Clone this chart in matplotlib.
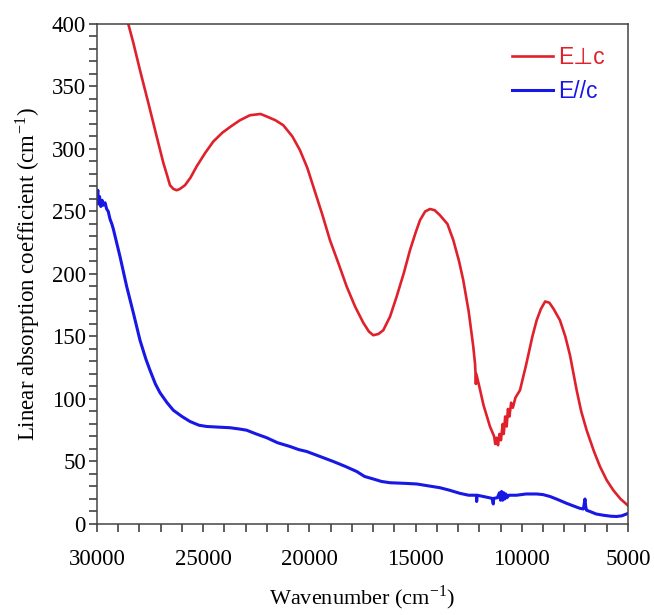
import matplotlib.pyplot as plt
from matplotlib.ticker import MultipleLocator

# absorption spectra, wavenumber in cm-1
w_perp = [28700, 28526, 28290, 27975, 27585, 27190, 26878, 26700, 26563, 26400,
          26248, 26100, 25857, 25600, 25310, 24900, 24522, 24100, 23700, 23268,
          22797, 22300, 22010, 21600, 21229, 20800,
          20443, 20100, 19816, 19400, 19030, 18600, 18245, 17850, 17463, 17200,
          16992, 16750, 16521, 16200, 15890, 15550, 15264, 15000, 14793, 14550,
          14322, 14100, 13852, 13500, 13222, 12950, 12755, 12500, 12284, 12200,
          12180, 12160, 12140, 12000, 11800, 11498, 11300, 11250, 11182, 11120,
          11050, 10980, 10900, 10850, 10780, 10712, 10650, 10580, 10500, 10420,
          10300, 10085, 9800, 9500, 9299, 9100, 8900, 8700, 8500, 8203,
          7950, 7730, 7416, 7200, 6946, 6600, 6319, 6000, 5692, 5350, 5016]
a_perp = [410, 400, 385, 363, 337, 310, 289, 279, 271, 268,
          267, 268, 271, 277, 286, 297, 306, 313, 318, 323,
          327, 328, 326, 323, 319, 310,
          299, 285, 270, 248, 227, 207, 190, 174, 161, 154,
          151, 152, 155, 166, 182, 201, 219, 233, 243, 250,
          252, 251, 247, 240, 227, 210, 195, 170, 142, 128,
          121, 112, 120, 110, 95, 78, 70, 64, 69, 63,
          72, 67, 80, 72, 86, 78, 92, 86, 97, 93,
          101, 107, 127, 150, 163, 172, 178, 177, 172, 163,
          150, 135, 107, 90, 75, 58, 46, 35, 27, 20, 15]

w_par = [30000, 29960, 29930, 29880, 29820, 29760, 29703, 29620, 29545, 29470,
         29388, 29300, 29231, 28917, 28602, 28290, 27975, 27700, 27505, 27250,
         27034, 26700, 26407, 26000, 25622, 25200, 24835, 24300, 23738, 23300,
         22952, 22500, 22010, 21500, 20914, 20500, 20127, 19500, 18875, 18300,
         17773, 17400, 16992, 16600, 16207, 15500, 14948, 14400, 13852, 13400,
         12910, 12500, 12140, 12124, 12100, 11812, 11400, 11342, 11320, 11150,
         11050, 11000, 10950, 10900, 10850, 10800, 10750, 10700, 10600, 10244,
         9800, 9299, 9000, 8672, 8300, 7887, 7500, 7260, 7100, 7060,
         7025, 6990, 6950, 6789, 6500, 6162, 5800, 5534, 5300, 5063, 5000]
a_par = [262, 267, 256, 262, 254, 259, 255, 257, 252, 250,
         244, 240, 236, 214, 190, 169, 147, 132, 123, 112,
         105, 97, 91, 86, 82, 79, 78, 77.5, 77, 76,
         75, 72, 69, 65, 62, 59.5, 58, 54, 50, 46,
         42, 38, 36, 34, 33, 32.5, 32, 30.5, 29, 27,
         24.5, 23, 23, 18, 23, 22, 20.5, 16, 20.5, 21,
         25, 19, 26, 19, 25, 20, 24, 21, 23, 23,
         24, 24, 23.5, 22, 19.5, 16.5, 14, 12.5, 12, 16,
         20, 14, 11, 10, 8, 7, 6.2, 6, 6.5, 8, 8.5]

plt.rcParams['font.family'] = 'Liberation Serif'
plt.rcParams['mathtext.fontset'] = 'stix'

fig = plt.figure(figsize=(6.54, 6.15), dpi=100)
ax = fig.add_axes([0.1483, 0.148, 0.8119, 0.813])

ax.plot(w_perp, a_perp, color='#e0212b', lw=1.9, label='E\u22a5c')
ax.plot(w_par, a_par, color='#1717e6', lw=2.2, label='E//c')

ax.set_xlim(30000, 5000)
ax.set_ylim(0, 400)
ax.xaxis.set_major_locator(MultipleLocator(5000))
ax.xaxis.set_minor_locator(MultipleLocator(1000))
ax.yaxis.set_major_locator(MultipleLocator(50))
ax.yaxis.set_minor_locator(MultipleLocator(10))
ax.tick_params(axis='both', which='both', direction='out', length=6, width=1.1,
               color='#333333', labelsize=16.5, top=False, right=False)
ax.tick_params(axis='x', which='major', pad=12)
ax.tick_params(axis='y', which='major', pad=2)
for s in ax.spines.values():
    s.set_color('#444444')
    s.set_linewidth(1.1)

ax.set_xlabel(r'Wavenumber (cm$^{\mathregular{-1}}$)', fontsize=16, labelpad=10)
ax.set_ylabel(r'Linear absorption coefficient (cm$^{\mathregular{-1}}$)', fontsize=16.5, labelpad=7)

leg = ax.legend(loc='upper right', bbox_to_anchor=(0.977, 0.978), frameon=False,
                borderpad=0, handlelength=1.8, handletextpad=0.2, labelspacing=0.45,
                prop={'family': ['Liberation Sans', 'DejaVu Sans'], 'size': 16.5})
for txt, line in zip(leg.get_texts(), leg.get_lines()):
    txt.set_color(line.get_color())

fig.savefig('out.png', dpi=100)
